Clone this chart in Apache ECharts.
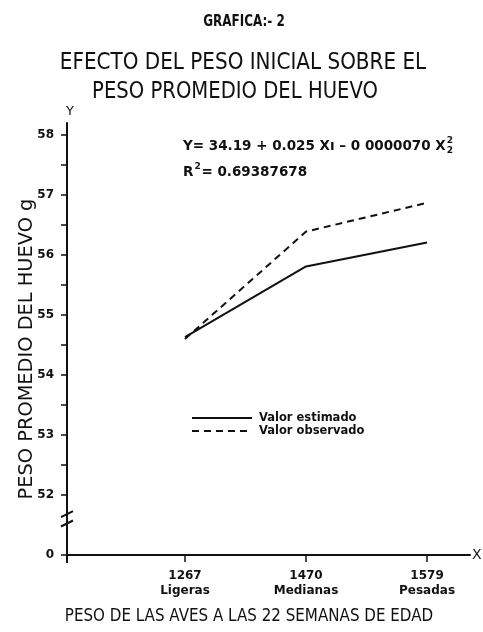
<!DOCTYPE html>
<html>
<head>
<meta charset="utf-8">
<script src="https://cdn.jsdelivr.net/npm/echarts@6/dist/echarts.min.js"></script>
<style>
  html, body { margin: 0; padding: 0; background: #fff; }
  #chart { width: 483px; height: 632px; }
</style>
</head>
<body>
<div id="chart"></div>
<script>
// Body weight of the hens at 22 weeks (g) and weight class
const pesoAves = ['1267', '1470', '1579'];
const clases = ['Ligeras', 'Medianas', 'Pesadas'];
// Average egg weight (g)
const valorEstimado = [54.63, 55.81, 56.21];
const valorObservado = [54.6, 56.39, 56.87];
// Y axis tick labels (the lowest one stands in for the broken-off zero)
const yLabelValues = [51, 52, 53, 54, 55, 56, 57, 58];
const yTickValues = [51, 52, 52.5, 53, 53.5, 54, 54.5, 55, 55.5, 56, 56.5, 57, 57.5, 58];

const FONT = '"DejaVu Sans", sans-serif';
const INK = '#111';

const chart = echarts.init(document.getElementById('chart'), null, { renderer: 'canvas' });

const idx = pesoAves.map((_, i) => i);

const option = {
  backgroundColor: '#fff',
  animation: false,
  grid: { left: 67, right: 13, top: 123, bottom: 77, outerBoundsMode: 'none', containLabel: false },
  legend: {
    orient: 'vertical',
    left: 186,
    top: 407,
    itemWidth: 60,
    itemHeight: 12,
    itemGap: 1,
    itemStyle: { color: 'transparent', borderWidth: 0, opacity: 0 },
    textStyle: { fontFamily: FONT, fontSize: 11.5, fontWeight: 'bold', color: INK, padding: [0, 0, 0, 2] },
    data: ['Valor estimado', 'Valor observado']
  },
  xAxis: {
    type: 'value',
    min: -0.975,
    max: 2.355,
    name: 'X',
    nameGap: 2,
    nameTextStyle: { fontFamily: FONT, fontSize: 14, color: INK, verticalAlign: 'middle' },
    axisLine: { onZero: false, lineStyle: { color: INK, width: 2 } },
    axisTick: { show: true, length: 7, customValues: idx, lineStyle: { color: INK, width: 1.5 } },
    splitLine: { show: false },
    axisLabel: {
      customValues: idx,
      margin: 13,
      formatter: v => '{n|' + pesoAves[v] + '}\n{c|' + clases[v] + '}',
      rich: {
        n: { fontFamily: FONT, fontSize: 12, fontWeight: 'bold', color: INK, lineHeight: 15 },
        c: { fontFamily: FONT, fontSize: 12, fontWeight: 'bold', color: INK, lineHeight: 15 }
      }
    }
  },
  yAxis: {
    type: 'value',
    min: 51,
    max: 58.2,
    axisLine: { show: true, onZero: false, lineStyle: { color: INK, width: 2 } },
    axisTick: { show: true, length: 6, customValues: yTickValues, lineStyle: { color: INK, width: 1.5 } },
    splitLine: { show: false },
    axisLabel: {
      customValues: yLabelValues,
      margin: 13,
      fontFamily: FONT,
      fontSize: 12,
      fontWeight: 'bold',
      color: INK,
      formatter: v => (v === 51 ? '0' : String(v))
    }
  },
  series: [
    {
      name: 'Valor estimado',
      type: 'line',
      symbol: 'none',
      data: idx.map(i => [i, valorEstimado[i]]),
      lineStyle: { color: INK, width: 2 },
      itemStyle: { color: INK }
    },
    {
      name: 'Valor observado',
      type: 'line',
      symbol: 'none',
      data: idx.map(i => [i, valorObservado[i]]),
      lineStyle: { color: INK, width: 2, type: [7, 5] },
      itemStyle: { color: INK }
    }
  ]
};

chart.setOption(option);

// Measure text so the stacked index of X can follow the equation
const ctx = document.createElement('canvas').getContext('2d');
function textWidth(str, font) { ctx.font = font; return ctx.measureText(str).width; }

function buildGraphics() {
  const ax = chart.convertToPixel({ xAxisIndex: 0 }, -0.975);
  const y0 = chart.convertToPixel({ yAxisIndex: 0 }, 51);
  const b1 = chart.convertToPixel({ yAxisIndex: 0 }, 51.68);
  const b2 = chart.convertToPixel({ yAxisIndex: 0 }, 51.525);

  const eqFont = 'bold 13.5px ' + FONT;
  const supFont = 'bold 9px ' + FONT;
  const eqMain = 'Y= 34.19 + 0.025 X\u0131 \u2013 0 0000070 X';
  const eqX = 183;
  const eqY = 146;
  const eqW = textWidth(eqMain, eqFont);
  const rW = textWidth('R', eqFont);

  const elements = [
    // headings
    { type: 'text', x: 244, y: 22, scaleY: 1.3,
      style: { text: 'GRAFICA:- 2', font: 'bold 12px ' + FONT, fill: INK, textAlign: 'center', textVerticalAlign: 'middle' } },
    { type: 'text', x: 243, y: 63, scaleX: 1.11, scaleY: 1.27,
      style: { text: 'EFECTO DEL PESO INICIAL SOBRE EL', font: '18px ' + FONT, fill: INK, textAlign: 'center', textVerticalAlign: 'middle' } },
    { type: 'text', x: 235, y: 92, scaleX: 1.09, scaleY: 1.27,
      style: { text: 'PESO PROMEDIO DEL HUEVO', font: '18px ' + FONT, fill: INK, textAlign: 'center', textVerticalAlign: 'middle' } },
    // axis titles
    { type: 'text', x: 27, y: 349, rotation: Math.PI / 2, scaleX: 1.14, scaleY: 1.15,
      style: { text: 'PESO PROMEDIO DEL HUEVO g', font: '17px ' + FONT, fill: INK, textAlign: 'center', textVerticalAlign: 'middle' } },
    { type: 'text', x: 249, y: 616, scaleX: 1.08, scaleY: 1.3,
      style: { text: 'PESO DE LAS AVES A LAS 22 SEMANAS DE EDAD', font: '14px ' + FONT, fill: INK, textAlign: 'center', textVerticalAlign: 'middle' } },
    { type: 'text', x: ax + 3, y: 112,
      style: { text: 'Y', font: '13px ' + FONT, fill: INK, textAlign: 'center', textVerticalAlign: 'middle' } },
    // regression equation
    { type: 'text', x: eqX, y: eqY,
      style: { text: eqMain, font: eqFont, fill: INK, textAlign: 'left', textVerticalAlign: 'middle' } },
    { type: 'text', x: eqX + eqW + 1, y: eqY - 5,
      style: { text: '2', font: supFont, fill: INK, textAlign: 'left', textVerticalAlign: 'middle' } },
    { type: 'text', x: eqX + eqW + 1, y: eqY + 5,
      style: { text: '2', font: supFont, fill: INK, textAlign: 'left', textVerticalAlign: 'middle' } },
    { type: 'text', x: eqX, y: 172,
      style: { text: 'R', font: eqFont, fill: INK, textAlign: 'left', textVerticalAlign: 'middle' } },
    { type: 'text', x: eqX + rW + 1, y: 167,
      style: { text: '2', font: supFont, fill: INK, textAlign: 'left', textVerticalAlign: 'middle' } },
    { type: 'text', x: eqX + rW + 8, y: 172,
      style: { text: '= 0.69387678', font: eqFont, fill: INK, textAlign: 'left', textVerticalAlign: 'middle' } },
    // y axis line running a little past the x axis
    { type: 'line', shape: { x1: ax, y1: y0, x2: ax, y2: y0 + 8 }, style: { stroke: INK, lineWidth: 2 } },
    // axis break
    { type: 'rect', shape: { x: ax - 3, y: b1 + 1, width: 6, height: b2 - b1 - 2 }, style: { fill: '#fff' } },
    { type: 'line', shape: { x1: ax - 6, y1: b1 + 3, x2: ax + 6, y2: b1 - 3 }, style: { stroke: INK, lineWidth: 2 } },
    { type: 'line', shape: { x1: ax - 6, y1: b2 + 3, x2: ax + 6, y2: b2 - 3 }, style: { stroke: INK, lineWidth: 2 } }
  ];
  chart.setOption({ graphic: { elements } });
}

buildGraphics();
</script>
</body>
</html>
